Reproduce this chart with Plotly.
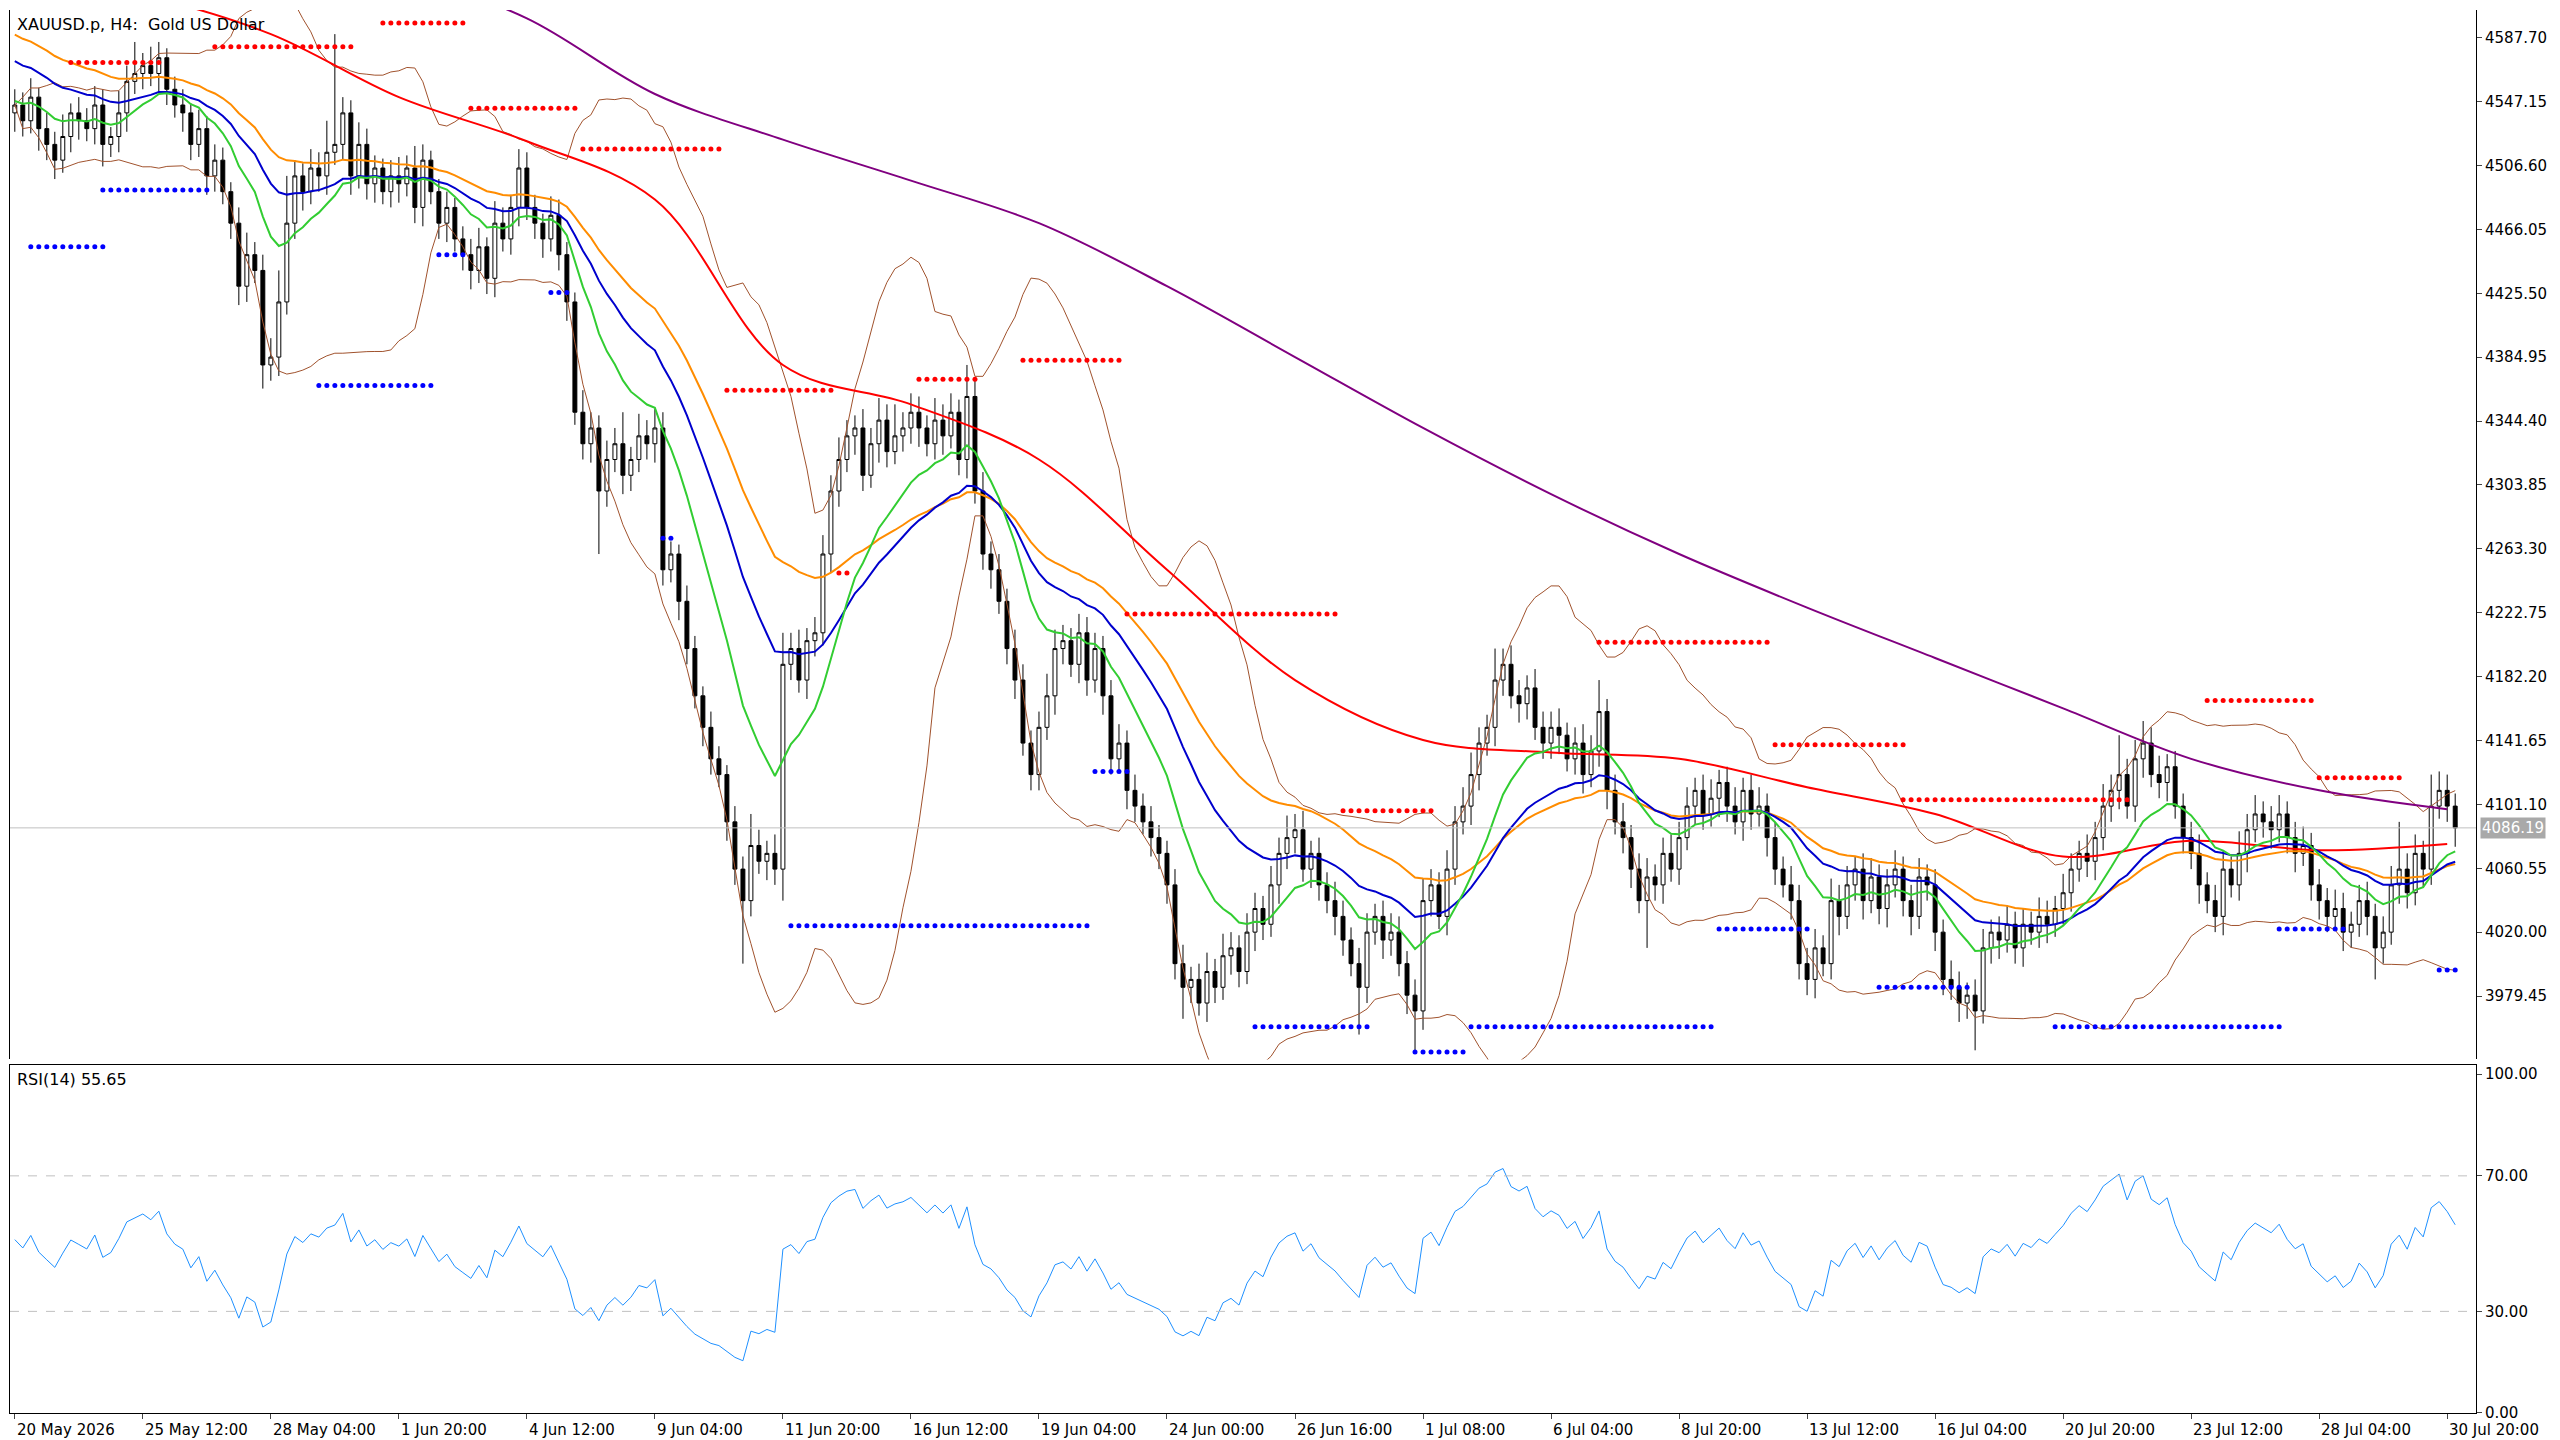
import numpy as np
import pandas as pd
import plotly.graph_objects as go

# close of every H4 bar, 16 bars per row (one row per time label)
closes = [
    4545, 4535, 4550, 4530, 4520, 4510, 4525, 4540, 4535, 4530, 4545, 4520, 4525, 4540, 4560, 4565,
    4570, 4565, 4575, 4555, 4545, 4540, 4520, 4530, 4500, 4510, 4490, 4470, 4430, 4450, 4440, 4380,
    4385, 4420, 4470, 4500, 4490, 4505, 4500, 4515, 4520, 4540, 4500, 4520, 4495, 4505, 4490, 4500,
    4495, 4505, 4480, 4510, 4490, 4470, 4480, 4460, 4450, 4440, 4455, 4435, 4470, 4460, 4480, 4505,
    4480, 4470, 4460, 4475, 4450, 4420, 4350, 4330, 4340, 4300, 4320, 4330, 4310, 4320, 4335, 4330,
    4340, 4250, 4260, 4230, 4200, 4170, 4150, 4130, 4120, 4090, 4060, 4040, 4075, 4065, 4070, 4060,
    4190, 4200, 4180, 4205, 4210, 4260, 4300, 4320, 4335, 4340, 4310, 4330, 4345, 4325, 4335, 4340,
    4350, 4340, 4330, 4345, 4335, 4350, 4320, 4360, 4300, 4260, 4250, 4230, 4200, 4180, 4140, 4120,
    4150, 4170, 4200, 4205, 4190, 4210, 4180, 4200, 4170, 4130, 4140, 4110, 4100, 4090, 4080, 4070,
    4050, 4000, 3985, 3990, 3975, 3995, 3985, 4005, 4010, 3995, 4020, 4035, 4025, 4050, 4070, 4080,
    4085, 4060, 4070, 4050, 4040, 4030, 4015, 4000, 3985, 4020, 4030, 4015, 4020, 4000, 3980, 3970,
    4040, 4050, 4030, 4060, 4090, 4100, 4120, 4140, 4150, 4180, 4190, 4170, 4165, 4175, 4150, 4140,
    4150, 4145, 4130, 4140, 4120, 4135, 4160, 4110, 4090, 4080, 4060, 4040, 4055, 4050, 4070, 4060,
    4080, 4100, 4110, 4095, 4105, 4115, 4100, 4090, 4110, 4095, 4100, 4080, 4060, 4050, 4040, 4000,
    3990, 4010, 4000, 4040, 4030, 4050, 4060, 4040, 4055, 4035, 4050, 4060, 4040, 4030, 4055, 4050,
    4020, 3990, 3985, 3975, 3980, 3970, 4010, 4020, 4015, 4025, 4010, 4025, 4020, 4030, 4025, 4035,
    4045, 4060, 4070, 4065, 4080, 4100, 4110, 4120, 4100, 4130, 4140, 4120, 4115, 4125, 4100, 4080,
    4070, 4050, 4040, 4030, 4060, 4050, 4070, 4085, 4095, 4090, 4085, 4095, 4080, 4070, 4075, 4050,
    4040, 4030, 4035, 4020, 4025, 4040, 4030, 4010, 4020, 4050, 4060, 4045, 4070, 4060, 4100, 4110,
    4100, 4086.19,
]
first_open = 4540

# wick lengths above / below the candle body
upper_wick = [
    10, 8, 12, 6, 10, 8, 14, 6, 10, 8, 12, 10, 6, 14, 10, 20,
    8, 12, 10, 6, 8, 10, 6, 12, 8, 10, 8, 6, 10, 14, 8, 10,
    12, 20, 30, 10, 8, 12, 10, 20, 70, 10, 8, 14, 10, 8, 6, 10,
    12, 8, 14, 10, 6, 8, 10, 6, 8, 10, 12, 6, 14, 10, 8, 12,
    10, 8, 6, 12, 10, 8, 6, 14, 10, 8, 12, 10, 20, 8, 14, 10,
    12, 10, 8, 6, 10, 8, 6, 10, 8, 6, 10, 8, 20, 10, 8, 12,
    20, 10, 12, 8, 10, 12, 10, 14, 10, 8, 12, 10, 14, 10, 20, 10,
    12, 10, 8, 14, 10, 12, 8, 20, 10, 12, 8, 10, 8, 12, 10, 8,
    10, 14, 12, 10, 8, 12, 10, 10, 8, 10, 12, 8, 10, 8, 10, 8,
    8, 10, 12, 8, 10, 12, 8, 14, 10, 8, 12, 10, 8, 12, 10, 14,
    10, 12, 8, 10, 8, 12, 10, 8, 10, 12, 8, 10, 12, 10, 8, 10,
    14, 10, 8, 12, 10, 12, 14, 10, 8, 20, 10, 12, 10, 8, 12, 10,
    10, 12, 8, 10, 12, 10, 20, 8, 10, 12, 8, 10, 12, 8, 10, 12,
    10, 12, 8, 10, 12, 8, 10, 12, 8, 10, 12, 8, 10, 8, 12, 10,
    10, 12, 8, 14, 10, 12, 8, 10, 12, 8, 10, 12, 8, 10, 12, 8,
    10, 8, 12, 10, 8, 10, 12, 8, 10, 12, 8, 10, 8, 12, 10, 8,
    12, 10, 8, 12, 10, 14, 10, 25, 10, 12, 14, 10, 12, 8, 10, 8,
    10, 12, 8, 10, 12, 8, 14, 10, 12, 8, 10, 12, 8, 10, 12, 8,
    10, 8, 12, 10, 8, 10, 12, 8, 10, 12, 30, 10, 12, 8, 20, 12,
    10, 8,
]
lower_wick = [
    12, 10, 8, 14, 10, 12, 8, 10, 12, 8, 10, 14, 8, 10, 12, 8,
    10, 8, 12, 10, 8, 12, 10, 8, 12, 10, 8, 10, 12, 10, 8, 15,
    10, 12, 8, 10, 12, 8, 10, 12, 8, 10, 12, 8, 10, 12, 8, 10,
    12, 8, 10, 12, 8, 10, 12, 8, 10, 12, 8, 10, 12, 8, 10, 12,
    8, 10, 12, 8, 10, 12, 8, 10, 12, 40, 10, 8, 12, 10, 8, 10,
    12, 10, 8, 12, 10, 8, 12, 10, 8, 12, 10, 40, 10, 8, 12, 10,
    20, 10, 8, 12, 10, 8, 12, 10, 8, 12, 10, 8, 12, 10, 8, 10,
    10, 12, 8, 10, 12, 8, 10, 12, 8, 10, 12, 8, 10, 12, 8, 10,
    10, 8, 12, 10, 8, 12, 10, 8, 12, 10, 8, 12, 10, 8, 12, 10,
    12, 10, 20, 10, 8, 12, 10, 8, 12, 10, 8, 12, 10, 8, 12, 10,
    10, 8, 12, 10, 8, 12, 10, 8, 30, 10, 8, 12, 10, 8, 12, 25,
    12, 10, 8, 12, 10, 8, 12, 10, 8, 12, 10, 8, 12, 10, 8, 10,
    10, 12, 8, 10, 12, 8, 10, 12, 8, 10, 12, 8, 30, 10, 12, 8,
    10, 8, 12, 10, 8, 12, 10, 8, 12, 10, 8, 12, 10, 8, 12, 10,
    10, 12, 8, 10, 12, 8, 10, 12, 8, 10, 12, 8, 10, 12, 8, 10,
    12, 10, 8, 12, 10, 25, 8, 10, 12, 8, 10, 12, 8, 10, 12, 8,
    10, 12, 8, 10, 12, 8, 10, 12, 8, 10, 12, 8, 10, 12, 8, 10,
    10, 12, 8, 10, 12, 8, 10, 12, 8, 10, 12, 8, 10, 12, 8, 10,
    12, 10, 8, 12, 10, 8, 12, 20, 10, 8, 12, 10, 8, 12, 10, 8,
    10, 12,
]

tick_text = ["20 May 2026", "25 May 12:00", "28 May 04:00", "1 Jun 20:00", "4 Jun 12:00",
             "9 Jun 04:00", "11 Jun 20:00", "16 Jun 12:00", "19 Jun 04:00", "24 Jun 00:00",
             "26 Jun 16:00", "1 Jul 08:00", "6 Jul 04:00", "8 Jul 20:00", "13 Jul 12:00",
             "16 Jul 04:00", "20 Jul 20:00", "23 Jul 12:00", "28 Jul 04:00", "30 Jul 20:00"]

# slow averages, one value per time label
red_ma = [4630, 4615, 4590, 4550, 4522, 4485, 4380, 4355, 4320, 4250,
          4180, 4142, 4134, 4130, 4112, 4095, 4068, 4078, 4072, 4076]
purple_ma = [4700, 4680, 4655, 4630, 4600, 4552, 4523, 4497, 4470, 4430,
             4385, 4340, 4298, 4260, 4226, 4194, 4162, 4130, 4110, 4098]

# fractal levels: start bar, end bar, price
red_levels = [(7, 18, 4572), (25, 42, 4582), (46, 56, 4597), (57, 70, 4543), (71, 88, 4517),
              (89, 102, 4364), (103, 104, 4248), (113, 120, 4371), (126, 138, 4383),
              (139, 165, 4222), (166, 177, 4097), (198, 219, 4204), (220, 236, 4139),
              (236, 264, 4104), (274, 287, 4167), (288, 298, 4118)]
blue_levels = [(2, 11, 4455), (11, 24, 4491), (38, 52, 4367), (53, 56, 4450), (67, 69, 4426),
               (81, 82, 4270), (97, 134, 4024), (135, 139, 4122), (155, 169, 3960),
               (175, 181, 3944), (182, 212, 3960), (213, 224, 4022), (233, 244, 3985),
               (255, 283, 3960), (283, 291, 4022), (303, 305, 3996)]

last_price = 4086.19
rsi_label = "RSI(14) 55.65"

n = len(closes)
x = np.arange(n)
close = pd.Series(closes, dtype=float)
opens = pd.Series([first_open] + closes[:-1], dtype=float)
highs = np.maximum(opens, close) + np.array(upper_wick)
lows = np.minimum(opens, close) - np.array(lower_wick)


def ema(s, period, seed):
    out, v, k = [], seed, 2 / (period + 1)
    for p in s:
        v = v + k * (p - v)
        out.append(v)
    return out


def wilder_rsi(s, prev, period=14, seed=8.0):
    g, l, out = seed, seed, []
    for p in s:
        d = p - prev
        prev = p
        g = (g * (period - 1) + max(d, 0)) / period
        l = (l * (period - 1) + max(-d, 0)) / period
        out.append(100 - 100 / (1 + g / l))
    return out


green = ema(close, 13, 4548)
blue = ema(close, 26, 4575)
orange = ema(close, 40, 4592)
mid = close.rolling(20, min_periods=1).mean()
sd = close.rolling(20, min_periods=1).std(ddof=0).fillna(0)
bb_up, bb_lo = mid + 2 * sd, mid - 2 * sd
rsi = wilder_rsi(closes, first_open)

tick_vals = [16 * i for i in range(len(tick_text))]
seg_x = [16 * i for i in range(len(red_ma))]

fig = go.Figure()
brown = "#a0522d"
fig.add_trace(go.Scatter(x=x, y=bb_up, mode="lines", line=dict(color=brown, width=1)))
fig.add_trace(go.Scatter(x=x, y=bb_lo, mode="lines", line=dict(color=brown, width=1)))
fig.add_trace(go.Scatter(x=seg_x, y=purple_ma, mode="lines", line=dict(color="#800080", width=2, shape="spline")))
fig.add_trace(go.Scatter(x=seg_x, y=red_ma, mode="lines", line=dict(color="#ff0000", width=2, shape="spline")))
fig.add_trace(go.Scatter(x=x, y=orange, mode="lines", line=dict(color="#ff8c00", width=2)))
fig.add_trace(go.Scatter(x=x, y=blue, mode="lines", line=dict(color="#0000cd", width=2)))
fig.add_trace(go.Scatter(x=x, y=green, mode="lines", line=dict(color="#32cd32", width=2)))

for levels, col in ((red_levels, "#ff0000"), (blue_levels, "#0000ff")):
    lx, ly = [], []
    for a, b, p in levels:
        for i in range(a, b + 1):
            lx.append(i)
            ly.append(p)
    fig.add_trace(go.Scatter(x=lx, y=ly, mode="markers", marker=dict(color=col, size=5)))

fig.add_trace(go.Candlestick(
    x=x, open=opens, high=highs, low=lows, close=close,
    increasing=dict(fillcolor="#ffffff", line=dict(color="#000000", width=1)),
    decreasing=dict(fillcolor="#000000", line=dict(color="#000000", width=1)),
    whiskerwidth=0,
))

fig.add_trace(go.Scatter(x=x, y=rsi, mode="lines", line=dict(color="#1e90ff", width=1), yaxis="y2"))

axis_font = dict(family="DejaVu Sans", size=15, color="#000000")
fig.update_layout(
    width=2560, height=1440,
    margin=dict(l=2, r=92, t=2, b=35),
    paper_bgcolor="#ffffff", plot_bgcolor="#ffffff",
    showlegend=False,
    font=axis_font,
    xaxis=dict(range=[-0.6, 307.6], tickvals=tick_vals, showticklabels=False, showgrid=False,
               zeroline=False, rangeslider=dict(visible=False), showline=True, mirror=True,
               linecolor="#000000", ticks="outside", ticklen=5, anchor="y2"),
    yaxis=dict(domain=[0.252, 1.0], range=[3939.2, 4605.3], side="right", showgrid=False,
               zeroline=False, tickvals=[3979.45 + 40.55 * i for i in range(16)],
               tickformat=".2f", ticks="outside", ticklen=5, showline=True, mirror=True,
               linecolor="#000000", tickfont=axis_font),
    yaxis2=dict(domain=[0.0, 0.248], range=[0, 102.7], side="right", showgrid=False,
                zeroline=False, tickvals=[0, 30, 70, 100], tickformat=".2f", ticks="outside",
                ticklen=5, showline=True, mirror=True, linecolor="#000000", tickfont=axis_font),
)

# time labels start at their tick, as in the terminal
for tv, tt in zip(tick_vals, tick_text):
    fig.add_annotation(x=tv, xref="x", xanchor="left", yref="paper", y=0, yanchor="top",
                       yshift=-6, text=tt, showarrow=False, font=axis_font)

for lvl in (30, 70):
    fig.add_shape(type="line", xref="paper", x0=0, x1=1, yref="y2", y0=lvl, y1=lvl,
                  line=dict(color="#c0c0c0", width=1, dash="dash"))
fig.add_shape(type="line", xref="paper", x0=0, x1=1, yref="y", y0=last_price, y1=last_price,
              line=dict(color="#c0c0c0", width=1))
fig.add_annotation(xref="paper", x=1.0, xanchor="left", yref="y", y=last_price,
                   text=f"{last_price:.2f}", showarrow=False, bgcolor="#a9a9a9",
                   font=dict(family="DejaVu Sans", size=15, color="#ffffff"), xshift=4)
fig.add_annotation(xref="paper", x=0.002, xanchor="left", yref="paper", y=0.998, yanchor="top",
                   text="XAUUSD.p, H4:  Gold US Dollar", showarrow=False,
                   font=dict(family="DejaVu Sans", size=16, color="#000000"))
fig.add_annotation(xref="paper", x=0.002, xanchor="left", yref="paper", y=0.246, yanchor="top",
                   text=rsi_label, showarrow=False,
                   font=dict(family="DejaVu Sans", size=16, color="#000000"))

fig.write_html("out.html")
